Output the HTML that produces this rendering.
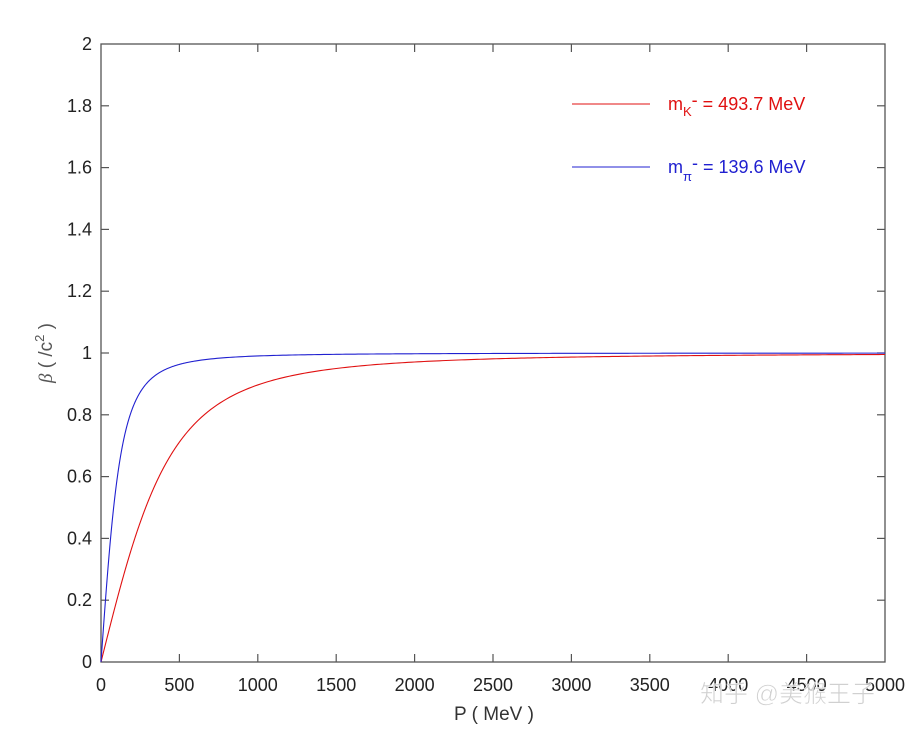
<!DOCTYPE html>
<html><head><meta charset="utf-8"><style>
body{margin:0;background:#fff;}
svg{display:block;font-family:"Liberation Sans","Noto Sans CJK SC",sans-serif;}
</style></head><body>
<svg id="s" width="920" height="734" viewBox="0 0 920 734">
<rect width="920" height="734" fill="#fff"/>
<g id="ax" stroke="#555" stroke-width="1.3" fill="none">
<rect x="101" y="44" width="784" height="618"/>
</g>
<g id="ticks" stroke="#555" stroke-width="1.2"></g>
<g id="lbl" font-size="18" fill="#222"></g>
<path id="red" fill="none" stroke="#e01010" stroke-width="1.1"/>
<path id="blue" fill="none" stroke="#2020d0" stroke-width="1.1"/>
<line x1="572" y1="104" x2="650" y2="104" stroke="#e01010" stroke-width="1.1"/>
<line x1="572" y1="167" x2="650" y2="167" stroke="#2020d0" stroke-width="1.1"/>
<text x="668" y="110" font-size="18" fill="#e01010">m<tspan font-size="13" dy="6">K</tspan><tspan dy="-10">-</tspan><tspan dy="4"> = 493.7 MeV</tspan></text>
<text x="668" y="173" font-size="18" fill="#2020d0">m<tspan font-size="13" dy="8">π</tspan><tspan dy="-12">-</tspan><tspan dy="4"> = 139.6 MeV</tspan></text>
<text transform="translate(52,353) rotate(-90)" text-anchor="middle" font-size="19" fill="#555"><tspan font-style="italic" font-family="Liberation Serif,serif">β</tspan>  ( /c<tspan font-size="13" dy="-8">2</tspan><tspan dy="8"> )</tspan></text>
<text x="494" y="720" text-anchor="middle" font-size="19" fill="#333">P ( MeV )</text>
<text x="700" y="702" font-size="24" fill="#ccc" stroke="#fff" stroke-width="0.6" opacity="0.9">知乎 @美猴王子</text>
</svg>
<script>
var x0=101,x1=885,y0=662,y1=44,ns="http://www.w3.org/2000/svg";
function X(p){return x0+(x1-x0)*p/5000}function Y(b){return y0-(y0-y1)*b/2}
var t=document.getElementById("ticks"),l=document.getElementById("lbl");
function ln(a,b,c,d){var e=document.createElementNS(ns,"line");e.setAttribute("x1",a);e.setAttribute("y1",b);e.setAttribute("x2",c);e.setAttribute("y2",d);t.appendChild(e)}
function tx(x,y,s,a){var e=document.createElementNS(ns,"text");e.setAttribute("x",x);e.setAttribute("y",y);e.setAttribute("text-anchor",a);e.textContent=s;l.appendChild(e)}
for(var i=0;i<=10;i++){var x=X(i*500);if(i>0&&i<10){ln(x,y0,x,y0-8);ln(x,y1,x,y1+8);}tx(x,691,String(i*500),"middle");}
for(var j=0;j<=10;j++){var y=Y(j*0.2);if(j>0&&j<10){ln(x0,y,x0+8,y);ln(x1,y,x1-8,y);}var s=j%5==0?String(j/5):(j*0.2).toFixed(1);tx(92,y+6,s,"end");}
function path(m){var d="";for(var p=0;p<=5000;p+=(p<600?2:20)){var b=p/Math.sqrt(p*p+m*m);d+=(d?"L":"M")+X(p).toFixed(2)+","+Y(b).toFixed(2);}return d}
document.getElementById("red").setAttribute("d",path(493.7));
document.getElementById("blue").setAttribute("d",path(139.6));
</script>
</body></html>
